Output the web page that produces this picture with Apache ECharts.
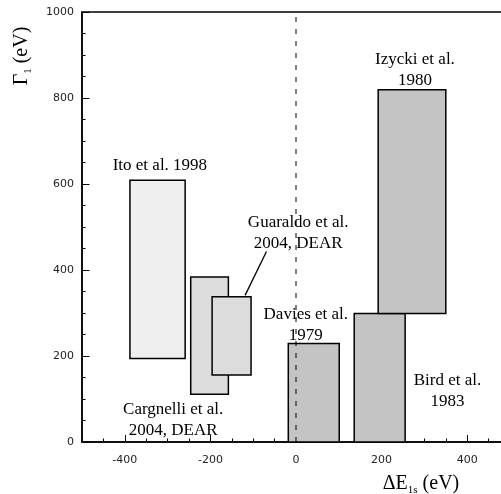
<!DOCTYPE html>
<html><head><meta charset="utf-8">
<script src="https://cdn.jsdelivr.net/npm/echarts@6/dist/echarts.min.js"></script>
<style>html,body{margin:0;padding:0;background:#fff}#c{width:501px;height:494px}</style>
</head><body><div id="c"></div>
<script>
// Data
const experiments = ['Ito et al. 1998', 'Cargnelli et al. 2004, DEAR', 'Guaraldo et al. 2004, DEAR', 'Davies et al. 1979', 'Bird et al. 1983', 'Izycki et al. 1980'];
const shiftLow  = [-388, -246, -196, -18, 136, 192];
const shiftHigh = [-259, -158, -105, 101, 255, 350];
const widthLow  = [194, 111, 156, 0, 0, 299];
const widthHigh = [609, 384, 338, 229, 299, 819];
const fills = ['#efefef', '#dcdcdc', '#dcdcdc', '#c4c4c4', '#c4c4c4', '#c4c4c4'];

const labelTexts = ['Ito et al. 1998', 'Cargnelli et al.\n2004, DEAR', 'Guaraldo et al.\n2004, DEAR', 'Davies et al.\n1979', 'Bird et al.\n1983', 'Izycki et al.\n1980'];
const labelX = [-318, -287, 5, 23, 354, 278];
const labelY = [642, 50, 485, 273, 118, 866];
const leaderX = [-69, -119];
const leaderY = [443, 341];

const xMajorTicks = [-400, -200, 0, 200, 400];
const yMajorTicks = [0, 200, 400, 600, 800, 1000];

const chart = echarts.init(document.getElementById('c'), null, {renderer: 'canvas'});
const tickFont = {fontFamily: 'DejaVu Sans', fontSize: 11, color: '#222', formatter: v => String(v)};
const serif = 'Liberation Serif';
const richStyle = {
  a: {fontFamily: serif, fontSize: 20, fill: '#000', lineHeight: 24},
  s: {fontFamily: serif, fontSize: 11, fill: '#000', lineHeight: 14, verticalAlign: 'bottom'}
};

const option = {
  animation: false,
  grid: {left: 82, width: 428, top: 12, bottom: 52, outerBoundsMode: 'none', containLabel: false,
         show: true, borderColor: '#000', borderWidth: 1.5, backgroundColor: 'transparent'},
  xAxis: [
    {type: 'value', min: -500, max: 500, interval: 50, splitLine: {show: false},
     axisLine: {show: true, onZero: false, lineStyle: {color: '#000', width: 1.5}},
     axisTick: {show: true, inside: true, length: 3.5, lineStyle: {color: '#000', width: 1}},
     axisLabel: {show: false}},
    {type: 'value', min: -500, max: 500, interval: 50, position: 'bottom', splitLine: {show: false},
     axisLine: {show: false, onZero: false},
     axisTick: {show: true, inside: true, length: 7, customValues: xMajorTicks, lineStyle: {color: '#000', width: 1}},
     axisLabel: Object.assign({show: true, margin: 13, customValues: xMajorTicks}, tickFont)}
  ],
  yAxis: [
    {type: 'value', min: 0, max: 1000, interval: 50, splitLine: {show: false},
     axisLine: {show: true, onZero: false, lineStyle: {color: '#000', width: 1.5}},
     axisTick: {show: true, inside: true, length: 3.5, lineStyle: {color: '#000', width: 1}},
     axisLabel: {show: false}},
    {type: 'value', min: 0, max: 1000, interval: 50, position: 'left', splitLine: {show: false},
     axisLine: {show: false, onZero: false},
     axisTick: {show: true, inside: true, length: 7.5, customValues: yMajorTicks, lineStyle: {color: '#000', width: 1}},
     axisLabel: Object.assign({show: true, margin: 8, customValues: yMajorTicks}, tickFont)}
  ],
  series: [
    {
      type: 'custom', xAxisIndex: 0, yAxisIndex: 0,
      data: experiments.map((n, i) => [shiftLow[i], shiftHigh[i], widthLow[i], widthHigh[i]]),
      renderItem: function (params, api) {
        const p1 = api.coord([api.value(0), api.value(3)]);
        const p2 = api.coord([api.value(1), api.value(2)]);
        return {type: 'rect', shape: {x: p1[0], y: p1[1], width: p2[0] - p1[0], height: p2[1] - p1[1]},
          style: {fill: fills[params.dataIndex], stroke: '#000', lineWidth: 1.5}};
      },
      z: 2
    },
    {
      type: 'line', xAxisIndex: 0, yAxisIndex: 0, data: [[0, 0], [0, 1000]], symbol: 'none',
      lineStyle: {color: '#000', width: 1, type: [5, 7]}, z: 3, silent: true
    },
    {
      type: 'line', xAxisIndex: 0, yAxisIndex: 0, data: leaderX.map((x, i) => [x, leaderY[i]]), symbol: 'none',
      lineStyle: {color: '#000', width: 1.3}, z: 3, silent: true
    },
    {
      type: 'custom', xAxisIndex: 0, yAxisIndex: 0,
      data: labelTexts.map((t, i) => [labelX[i], labelY[i]]),
      renderItem: function (params, api) {
        const p = api.coord([api.value(0), api.value(1)]);
        return {type: 'text', x: p[0], y: p[1],
          style: {text: labelTexts[params.dataIndex], fill: '#000', align: 'center', verticalAlign: 'middle',
            font: '17px "' + serif + '"', lineHeight: 21}};
      },
      z: 4
    }
  ],
  graphic: [
    {type: 'text', x: 421, y: 484,
     style: {text: '{a|ΔE}{s|1s}{a| (eV)}', align: 'center', verticalAlign: 'middle', fill: '#000', rich: richStyle}},
    {type: 'text', x: 22, y: 56, rotation: Math.PI / 2,
     style: {text: '{a|Γ}{s|1}{a| (eV)}', align: 'center', verticalAlign: 'middle', fill: '#000', rich: richStyle}}
  ]
};
chart.setOption(option);
</script>
</body></html>
